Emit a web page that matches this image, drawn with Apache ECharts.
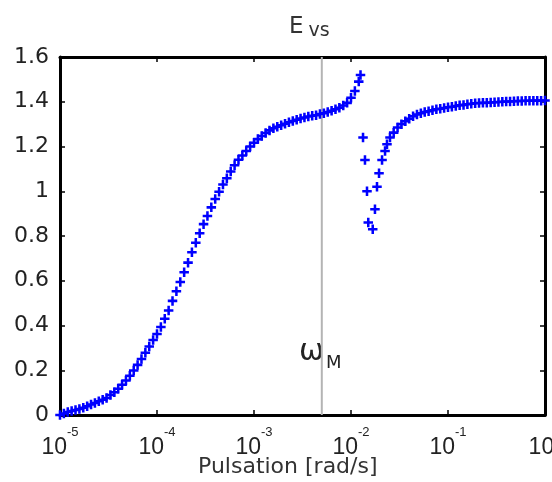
<!DOCTYPE html>
<html><head><meta charset="utf-8">
<script src="https://cdn.jsdelivr.net/npm/echarts@6/dist/echarts.min.js"></script>
<style>html,body{margin:0;padding:0;background:#fff}#c{width:552px;height:482px}</style>
</head><body><div id="c"></div>
<script>
// log10 of pulsation [rad/s]
const omegaExp = [
  -5, -4.96, -4.92, -4.88, -4.84, -4.8, -4.76, -4.72, -4.68, -4.64,
  -4.6, -4.56, -4.52, -4.48, -4.44, -4.4, -4.36, -4.32, -4.28, -4.24,
  -4.2, -4.16, -4.12, -4.08, -4.04, -4, -3.96, -3.92, -3.88, -3.84,
  -3.8, -3.76, -3.72, -3.68, -3.64, -3.6, -3.56, -3.52, -3.48, -3.44,
  -3.4, -3.36, -3.32, -3.28, -3.24, -3.2, -3.16, -3.12, -3.08, -3.04,
  -3, -2.96, -2.92, -2.88, -2.84, -2.8, -2.76, -2.72, -2.68, -2.64,
  -2.6, -2.56, -2.52, -2.48, -2.44, -2.4, -2.36, -2.32, -2.28, -2.24,
  -2.2, -2.16, -2.12, -2.08, -2.04, -2, -1.96, -1.92,
  -1.902, -1.876, -1.856, -1.835, -1.822, -1.776, -1.753, -1.732, -1.711, -1.68, -1.649, -1.629, -1.598,
  -1.56, -1.52, -1.48, -1.44, -1.4, -1.36, -1.32, -1.28, -1.24, -1.2,
  -1.16, -1.12, -1.08, -1.04, -1, -0.96, -0.92, -0.88, -0.84, -0.8,
  -0.76, -0.72, -0.68, -0.64, -0.6, -0.56, -0.52, -0.48, -0.44, -0.4,
  -0.36, -0.32, -0.28, -0.24, -0.2, -0.16, -0.12, -0.08, -0.04, 0
];
const eVs = [
  0, 0.007, 0.013, 0.018, 0.022, 0.027, 0.032, 0.039, 0.047, 0.054,
  0.061, 0.068, 0.076, 0.089, 0.102, 0.117, 0.135, 0.154, 0.175, 0.199,
  0.224, 0.25, 0.278, 0.306, 0.335, 0.362, 0.393, 0.43, 0.467, 0.51,
  0.553, 0.594, 0.638, 0.681, 0.727, 0.77, 0.812, 0.853, 0.889, 0.928,
  0.965, 0.998, 1.03, 1.058, 1.088, 1.116, 1.141, 1.16, 1.18, 1.2,
  1.217, 1.233, 1.247, 1.26, 1.272, 1.282, 1.288, 1.295, 1.302, 1.308,
  1.314, 1.32, 1.325, 1.33, 1.334, 1.337, 1.34, 1.345, 1.349, 1.354,
  1.36, 1.366, 1.373, 1.383, 1.395, 1.418, 1.448, 1.49,
  1.52, 1.24, 1.14, 1.0, 0.86, 0.83, 0.92, 1.02, 1.08, 1.14, 1.18, 1.21, 1.24,
  1.262, 1.285, 1.3, 1.313, 1.324, 1.335, 1.343, 1.349, 1.354, 1.358,
  1.362, 1.366, 1.369, 1.372, 1.375, 1.378, 1.381, 1.384, 1.386, 1.389,
  1.391, 1.393, 1.394, 1.395, 1.396, 1.397, 1.398, 1.399, 1.4, 1.401,
  1.401, 1.402, 1.403, 1.403, 1.404, 1.404, 1.405, 1.405, 1.405, 1.406
];
const xTickExp = [-5, -4, -3, -2, -1, 0];
const yRange = [0, 1.6];
const omegaM = 0.005;

const F = 'DejaVu Sans';
const FX = 'Liberation Sans';
const chart = echarts.init(document.getElementById('c'));
const data = omegaExp.map((e, i) => [Math.pow(10, e), eVs[i]]);
const plus = 'path://M3.3,0H5.7V3.3H9V5.7H5.7V9H3.3V5.7H0V3.3H3.3Z';
const axisLine = { show: true, onZero: false, lineStyle: { color: '#000', width: 3 } };
const axisTick = { show: true, inside: true, length: 5, lineStyle: { color: '#000', width: 1.5 } };
const xBase = {
  type: 'log', logBase: 10, min: Math.pow(10, xTickExp[0]), max: Math.pow(10, xTickExp[xTickExp.length - 1]),
  axisLine, axisTick, splitLine: { show: false }, minorTick: { show: false }
};
const yBase = {
  type: 'value', min: yRange[0], max: yRange[1], interval: 0.2,
  axisLine, axisTick, splitLine: { show: false }
};
chart.setOption({
  animation: false,
  backgroundColor: '#fff',
  title: {
    text: '{e|E}{s|vs}', left: 289, top: 16, padding: 0,
    textStyle: { fontWeight: 'normal', rich: {
      e: { fontSize: 23, fontFamily: F, fontWeight: 'normal', color: '#333', lineHeight: 25, verticalAlign: 'top', padding: [0, 5, 0, 0] },
      s: { fontSize: 19, fontFamily: F, fontWeight: 'normal', color: '#333', verticalAlign: 'bottom' }
    } }
  },
  grid: { left: 60, right: 7, top: 57, bottom: 67, containLabel: false, outerBoundsMode: 'none' },
  xAxis: [
    Object.assign({}, xBase, {
      position: 'bottom',
      axisLabel: {
        margin: 11, hideOverlap: false, showMinLabel: true, showMaxLabel: true,
        formatter: v => '{b|10}{s|' + Math.round(Math.log10(v)) + '}',
        rich: {
          b: { fontSize: 23, fontFamily: FX, color: '#222', lineHeight: 33, verticalAlign: 'bottom' },
          s: { fontSize: 13, fontFamily: FX, color: '#222', verticalAlign: 'top' }
        }
      }
    }),
    Object.assign({}, xBase, { position: 'top', axisLabel: { show: false } })
  ],
  yAxis: [
    Object.assign({}, yBase, {
      position: 'left',
      axisLabel: { margin: 11, fontSize: 22, fontFamily: F, color: '#222',
        formatter: v => String(+v.toFixed(1)) }
    }),
    Object.assign({}, yBase, { position: 'right', axisLabel: { show: false } })
  ],
  series: [
    {
      type: 'line', xAxisIndex: 0, yAxisIndex: 0, silent: true, z: 1,
      data: [[omegaM, yRange[0]], [omegaM, yRange[1]]],
      symbol: 'none', lineStyle: { color: '#b4b4b4', width: 2, type: 'solid' }
    },
    {
      type: 'scatter', xAxisIndex: 0, yAxisIndex: 0, z: 2,
      data, symbol: plus, symbolSize: 9.5, clip: false,
      itemStyle: { color: '#0000ff', opacity: 1 }
    }
  ],
  graphic: [
    { type: 'text', left: 299, top: 337, style: { text: 'ω', font: '30px "DejaVu Sans"', fill: '#222' } },
    { type: 'text', left: 326, top: 354, style: { text: 'M', font: '18px "DejaVu Sans"', fill: '#222' } },
    { type: 'text', left: 198, top: 456, style: { text: 'Pulsation [rad/s]', font: '22px "DejaVu Sans"', fill: '#333' } }
  ]
});
</script></body></html>
